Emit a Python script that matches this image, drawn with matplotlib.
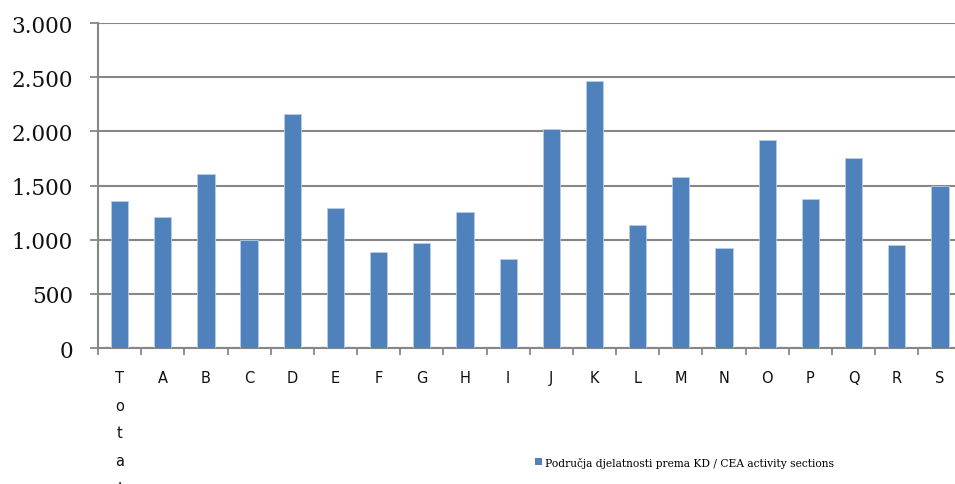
import matplotlib
matplotlib.use("Agg")
import matplotlib.pyplot as plt
from matplotlib.patches import Patch

categories = ["T\no\nt\na\nl", "A", "B", "C", "D", "E", "F", "G", "H", "I",
              "J", "K", "L", "M", "N", "O", "P", "Q", "R", "S"]
values = [1355, 1206, 1606, 994, 2163, 1295, 886, 966, 1252, 822,
          2025, 2468, 1135, 1575, 926, 1920, 1375, 1754, 954, 1492]
yticks = [0, 500, 1000, 1500, 2000, 2500, 3000]
ytick_labels = ["0", "500", "1.000", "1.500", "2.000", "2.500", "3.000"]
series_name = "Područja djelatnosti prema KD / CEA activity sections"

W, H = 955, 485
fig = plt.figure(figsize=(W / 100, H / 100), dpi=100)
left, right, bottom, top = 98, 961.5, 349, 24
ax = fig.add_axes([left / W, (H - bottom) / H, (right - left) / W, (bottom - top) / H])

grid_col = "#868686"
x = list(range(len(categories)))
ax.bar(x, values, width=0.4, color="#4F81BD", edgecolor="#B9CDE5", linewidth=0.6, zorder=3)

ax.set_xlim(-0.5, len(categories) - 0.5)
ax.set_ylim(0, 3000)
ax.set_yticks(yticks)
ax.set_yticklabels(ytick_labels, family="DejaVu Serif", fontsize=15.5, color="#111111")
ax.tick_params(axis="y", length=6, width=1.3, color=grid_col, pad=12)

ax.set_xticks([i - 0.5 for i in range(len(categories) + 1)], minor=False)
ax.set_xticklabels([])
ax.tick_params(axis="x", which="major", length=5, width=1.3, color=grid_col, direction="out")
ax.set_xticks(x, minor=True)
ax.set_xticklabels(categories, minor=True, family="DejaVu Sans", fontsize=10.5,
                   va="top", linespacing=2.05, color="#111111")
ax.tick_params(axis="x", which="minor", length=0, pad=16)

ax.yaxis.grid(True, color=grid_col, linewidth=1.5, zorder=0)
for s in ["top", "right"]:
    ax.spines[s].set_visible(False)
ax.spines["left"].set_color(grid_col)
ax.spines["left"].set_linewidth(1.5)
ax.spines["bottom"].set_color(grid_col)
ax.spines["bottom"].set_linewidth(1.5)

handle = Patch(facecolor="#4F81BD", edgecolor="none")
fig.legend([handle], [series_name], loc="center left",
           bbox_to_anchor=(530 / W, (H - 463) / H), frameon=False,
           prop={"family": "DejaVu Serif", "size": 7.7},
           handlelength=0.6, handleheight=0.6, handletextpad=0.3, borderpad=0)

fig.savefig("out.png", dpi=100)
